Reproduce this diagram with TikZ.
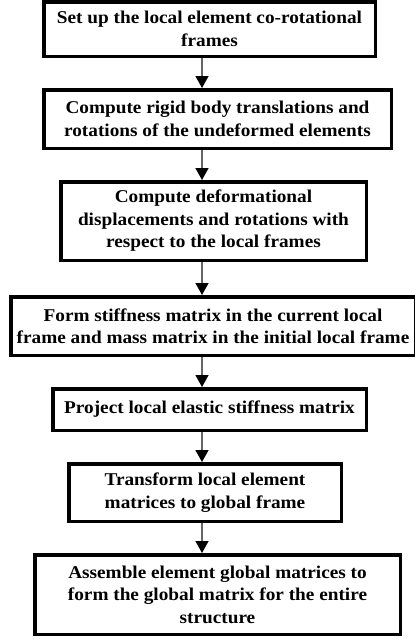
\documentclass[tikz,border=0pt]{standalone}
\usepackage{fontspec}
\setmainfont{Liberation Serif}[FakeStretch=1.07]
\usetikzlibrary{arrows.meta}
\begin{document}
\begin{tikzpicture}[x=1pt,y=-1pt,
  stepbox/.style={draw=black,line width=3.5pt,fill=white,inner sep=0pt,align=center,
    font=\bfseries\fontsize{18}{22.5}\selectfont},
  arr/.style={draw=black!60,line width=1.4pt,
    -{Triangle[length=12pt,width=13pt,color=black,fill=black]}}]
\useasboundingbox (0,0) rectangle (415,640);
\fill[white] (0,0) rectangle (415,640);
\coordinate (ax) at (202,0);
\node[stepbox,minimum width=331.5pt,minimum height=54.5pt] (b1) at (209.5,29)
  {Set up the local element co-rotational\\frames};
\node[stepbox,minimum width=347.5pt,minimum height=58.5pt] (b2) at (217.5,119)
  {Compute rigid body translations and\\rotations of the undeformed elements};
\node[stepbox,minimum width=305.5pt,minimum height=78.5pt] (b3) at (213.5,221)
  {Compute deformational\\displacements and rotations with\\respect to the local frames};
\node[stepbox,minimum width=404.5pt,minimum height=58.5pt] (b4) at (213,326)
  {Form stiffness matrix in the current local\\frame and mass matrix in the initial local frame};
\node[stepbox,minimum width=313.5pt,minimum height=41.5pt] (b5) at (209.5,409.5)
  {Project local elastic stiffness matrix};
\node[stepbox,minimum width=272.5pt,minimum height=57.5pt] (b6) at (205,492.5)
  {Transform local element\\matrices to global frame};
\node[stepbox,minimum width=365.5pt,minimum height=79.5pt] (b7) at (217.5,594.5)
  {Assemble element global matrices to\\form the global matrix for the entire\\structure};
\draw[arr] (b1.south -| ax) -- (b2.north -| ax);
\draw[arr] (b2.south -| ax) -- (b3.north -| ax);
\draw[arr] (b3.south -| ax) -- (b4.north -| ax);
\draw[arr] (b4.south -| ax) -- (b5.north -| ax);
\draw[arr] (b5.south -| ax) -- (b6.north -| ax);
\draw[arr] (b6.south -| ax) -- (b7.north -| ax);
\end{tikzpicture}
\end{document}
